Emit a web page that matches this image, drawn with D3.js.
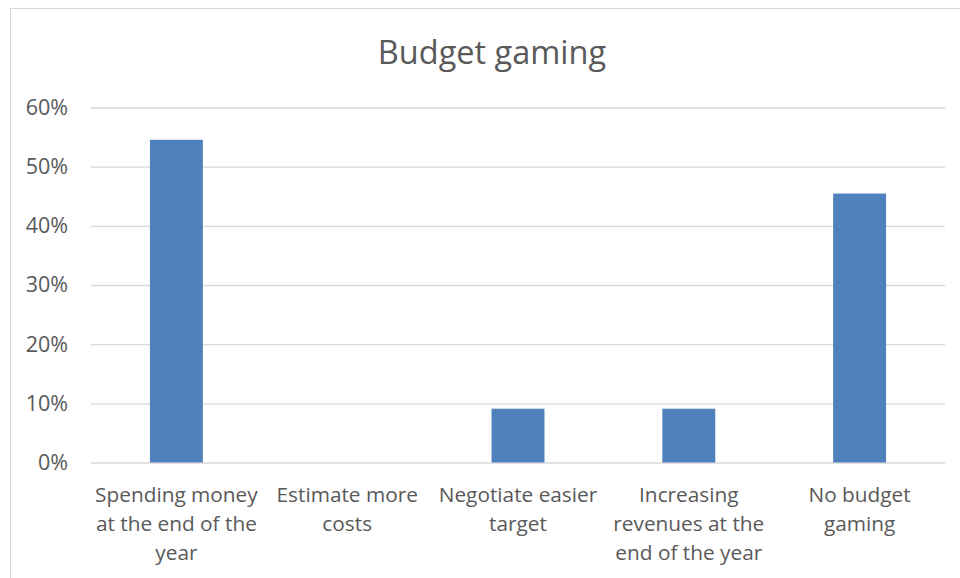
<!DOCTYPE html>
<html>
<head>
<meta charset="utf-8">
<script src="https://cdn.jsdelivr.net/npm/d3@7"></script>
<style>
  html, body { margin: 0; padding: 0; background: #ffffff; }
  svg { display: block; }
  text { font-family: "Open Sans", "Noto Sans", sans-serif; fill: #595959; }
</style>
</head>
<body>
<svg id="chart" width="960" height="578"></svg>
<script>
// Category labels (line breaks as they wrap under the axis)
const categories = [
  "Spending money\nat the end of the\nyear",
  "Estimate more\ncosts",
  "Negotiate easier\ntarget",
  "Increasing\nrevenues at the\nend of the year",
  "No budget\ngaming"
];
// Share of respondents per answer
const values = [6 / 11, 0, 1 / 11, 1 / 11, 5 / 11];
const yTicks = [0, 0.1, 0.2, 0.3, 0.4, 0.5, 0.6];
const title = "Budget gaming";

const svg = d3.select("#chart");
const W = 960, H = 578;
const plot = { left: 91, right: 945, top: 107.5, bottom: 462.5 };
const FONT = "'Open Sans', 'Noto Sans', sans-serif";

// Chart area frame
svg.append("rect")
  .attr("x", 10.5).attr("y", 8.5)
  .attr("width", W).attr("height", H)
  .attr("fill", "#ffffff")
  .attr("stroke", "#d9d9d9").attr("stroke-width", 1);

const x = d3.scaleBand()
  .domain(categories)
  .range([plot.left, plot.right])
  .paddingInner(0.69)
  .paddingOuter(0.345);

const y = d3.scaleLinear()
  .domain([0, 0.6])
  .range([plot.bottom, plot.top]);

// Horizontal gridlines and percentage labels
const yAxis = d3.axisLeft(y)
  .tickValues(yTicks)
  .tickFormat(d3.format(".0%"))
  .tickSize(-(plot.right - plot.left))
  .tickPadding(23);

const gy = svg.append("g")
  .attr("transform", `translate(${plot.left},0)`)
  .call(yAxis);
gy.select(".domain").remove();
gy.selectAll(".tick line").attr("stroke", "#d9d9d9").attr("stroke-width", 1.3);
gy.selectAll(".tick text")
  .attr("font-size", 21.5)
  .attr("fill", "#595959")
  .style("font-family", FONT);

// Bars
svg.append("g")
  .selectAll("rect")
  .data(values.map((v, i) => ({ c: categories[i], v })))
  .join("rect")
  .attr("x", d => x(d.c))
  .attr("width", x.bandwidth())
  .attr("y", d => y(d.v))
  .attr("height", d => y(0) - y(d.v))
  .attr("fill", "#4f81bd");

// Category axis labels
const xAxis = d3.axisBottom(x).tickSize(0).tickFormat("");
const gx = svg.append("g")
  .attr("transform", `translate(0,${plot.bottom})`)
  .call(xAxis);
gx.select(".domain").remove();
gx.selectAll(".tick").each(function (d) {
  const t = d3.select(this).append("text")
    .attr("text-anchor", "middle")
    .attr("font-size", 20.8)
    .attr("fill", "#595959")
    .style("font-family", FONT);
  d.split("\n").forEach((line, i) => {
    t.append("tspan")
      .attr("x", 0)
      .attr("y", 39.5 + i * 29.2)
      .text(line);
  });
});

// Title
svg.append("text")
  .attr("x", 492)
  .attr("y", 64)
  .attr("text-anchor", "middle")
  .attr("font-size", 32.5)
  .attr("fill", "#595959")
  .style("font-family", FONT)
  .text(title);
</script>
</body>
</html>
